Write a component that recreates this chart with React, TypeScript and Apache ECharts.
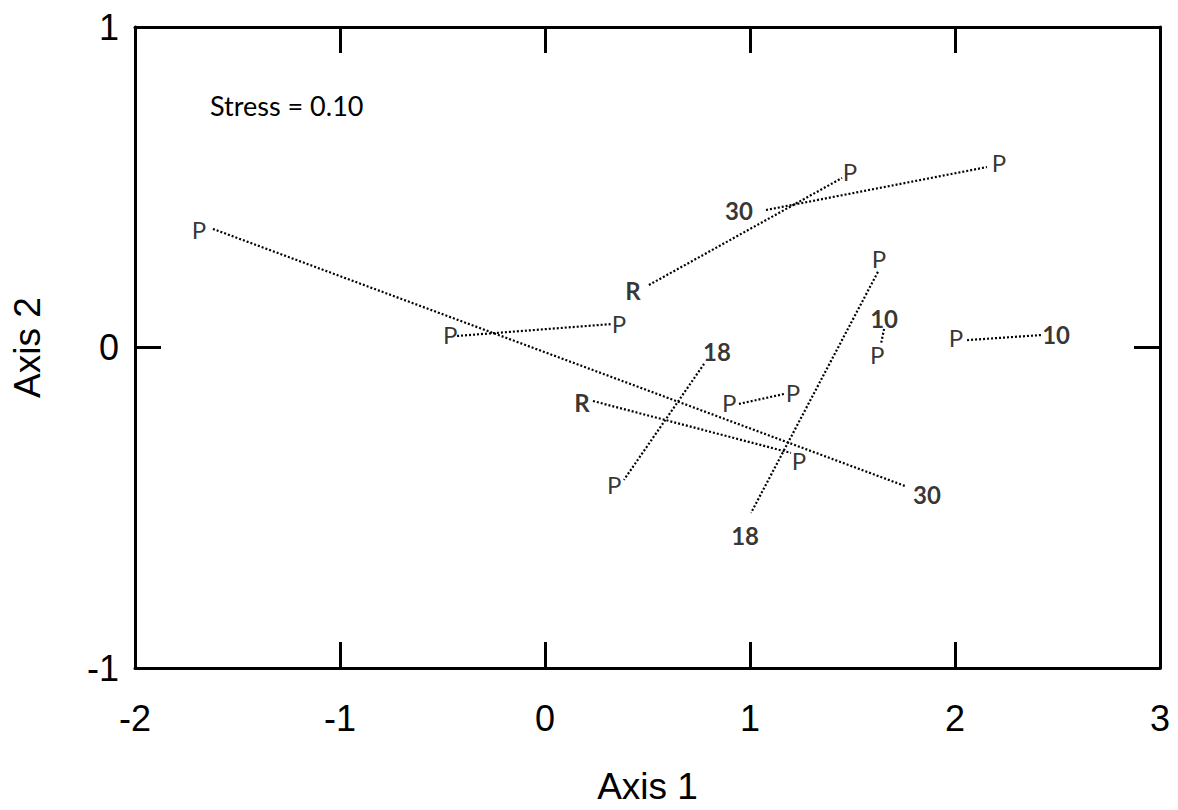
import React, { useEffect, useRef } from "react";
import * as echarts from "echarts";

// Line segments (dotted) joining paired configurations
const lineStarts: number[][] = [
  [-1.62, 0.37],
  [-0.429, 0.036],
  [0.507, 0.195],
  [1.078, 0.429],
  [1.624, 0.236],
  [1.654, 0.058],
  [2.059, 0.023],
  [0.776, -0.051],
  [0.234, -0.167],
  [0.946, -0.176],
];
const lineEnds: number[][] = [
  [1.756, -0.432],
  [0.322, 0.073],
  [1.449, 0.529],
  [2.156, 0.563],
  [1.005, -0.516],
  [1.639, 0.011],
  [2.424, 0.039],
  [0.385, -0.413],
  [1.2, -0.329],
  [1.166, -0.145],
];

// Point labels
const plainLabelText: string[] = ["P", "P", "P", "P", "P", "P", "P", "P", "P", "P", "P", "P"];
const plainLabelPos: number[][] = [
  [-1.688, 0.367],
  [-0.463, 0.042],
  [0.361, 0.076],
  [1.488, 0.548],
  [2.215, 0.576],
  [1.629, 0.279],
  [1.62, -0.023],
  [2.005, 0.03],
  [0.337, -0.429],
  [1.239, -0.354],
  [0.898, -0.173],
  [1.21, -0.139],
];
const boldLabelText: string[] = ["30", "R", "30", "18", "10", "10", "18", "R"];
const boldLabelPos: number[][] = [
  [1.863, -0.46],
  [0.429, 0.179],
  [0.946, 0.426],
  [0.976, -0.588],
  [1.654, 0.092],
  [2.493, 0.042],
  [0.839, -0.014],
  [0.18, -0.173],
];

const xTicks = [-2, -1, 0, 1, 2, 3];
const yTicks = [-1, 0, 1];
const stressText = "Stress = 0.10";

export default function App() {
  const ref = useRef<HTMLDivElement>(null);
  useEffect(() => {
    if (!ref.current) return;
    const chart = echarts.init(ref.current, null, { renderer: "svg" });
    const lineSeries = lineStarts.map((s, i) => ({
      type: "line",
      xAxisIndex: 0,
      yAxisIndex: 0,
      data: [s, lineEnds[i]],
      symbol: "none",
      lineStyle: { color: "#000", width: 2.2, type: [2, 2] },
      silent: true,
      z: 2,
    }));
    const labelFont = "Lato, 'Open Sans', sans-serif";
    const axisLabelFont = "'Liberation Sans', Arial, sans-serif";
    const common = {
      axisLine: { show: true, onZero: false, lineStyle: { color: "#000", width: 3 } },
      axisTick: { show: true, inside: true, length: 26, lineStyle: { color: "#000", width: 3 } },
      splitLine: { show: false },
    };
    const transparent = "rgba(0,0,0,0)";
    const labelBase = {
      show: true,
      position: "inside",
      formatter: (p: any) => p.name,
      color: "#000",
      textBorderWidth: 0,
      textBorderColor: transparent,
      fontSize: 24,
      fontFamily: labelFont,
    };
    chart.setOption({
      animation: false,
      backgroundColor: "#fff",
      grid: { left: 135, right: 18, top: 27, bottom: 142, containLabel: false },
      xAxis: [
        {
          type: "value",
          position: "bottom",
          min: -2,
          max: 3,
          interval: 1,
          ...common,
          axisLabel: {
            color: "#000",
            fontSize: 36,
            fontFamily: axisLabelFont,
            margin: 32,
            formatter: (v: number) => (xTicks.includes(v) ? String(v) : ""),
          },
          name: "Axis 1",
          nameLocation: "middle",
          nameGap: 100,
          nameTextStyle: { color: "#000", fontSize: 37, fontFamily: axisLabelFont },
        },
        {
          type: "value",
          position: "top",
          min: -2,
          max: 3,
          interval: 1,
          ...common,
          axisLabel: { show: false },
        },
      ],
      yAxis: [
        {
          type: "value",
          position: "left",
          min: -1,
          max: 1,
          interval: 1,
          ...common,
          axisLabel: {
            color: "#000",
            fontSize: 36,
            fontFamily: axisLabelFont,
            margin: 16,
            formatter: (v: number) => (yTicks.includes(v) ? String(v) : ""),
          },
          name: "Axis 2",
          nameLocation: "middle",
          nameGap: 89,
          nameTextStyle: { color: "#000", fontSize: 37, fontFamily: axisLabelFont },
        },
        {
          type: "value",
          position: "right",
          min: -1,
          max: 1,
          interval: 1,
          ...common,
          axisLabel: { show: false },
        },
      ],
      graphic: [
        {
          type: "text",
          left: 210,
          top: 92,
          style: { text: stressText, fontSize: 27, fontFamily: labelFont, fill: "#000" },
        },
      ],
      series: [
        ...lineSeries,
        {
          type: "scatter",
          data: plainLabelPos.map((p, i) => ({ value: p, name: plainLabelText[i] })),
          symbolSize: 1,
          itemStyle: { color: transparent },
          silent: true,
          z: 3,
          label: { ...labelBase },
        },
        {
          type: "scatter",
          data: boldLabelPos.map((p, i) => ({ value: p, name: boldLabelText[i] })),
          symbolSize: 1,
          itemStyle: { color: transparent },
          silent: true,
          z: 3,
          label: { ...labelBase, fontWeight: "bold" },
        },
      ],
    });
    return () => chart.dispose();
  }, []);
  return <div ref={ref} style={{ width: 1178, height: 810, position: "absolute", left: 0, top: 0 }} />;
}
